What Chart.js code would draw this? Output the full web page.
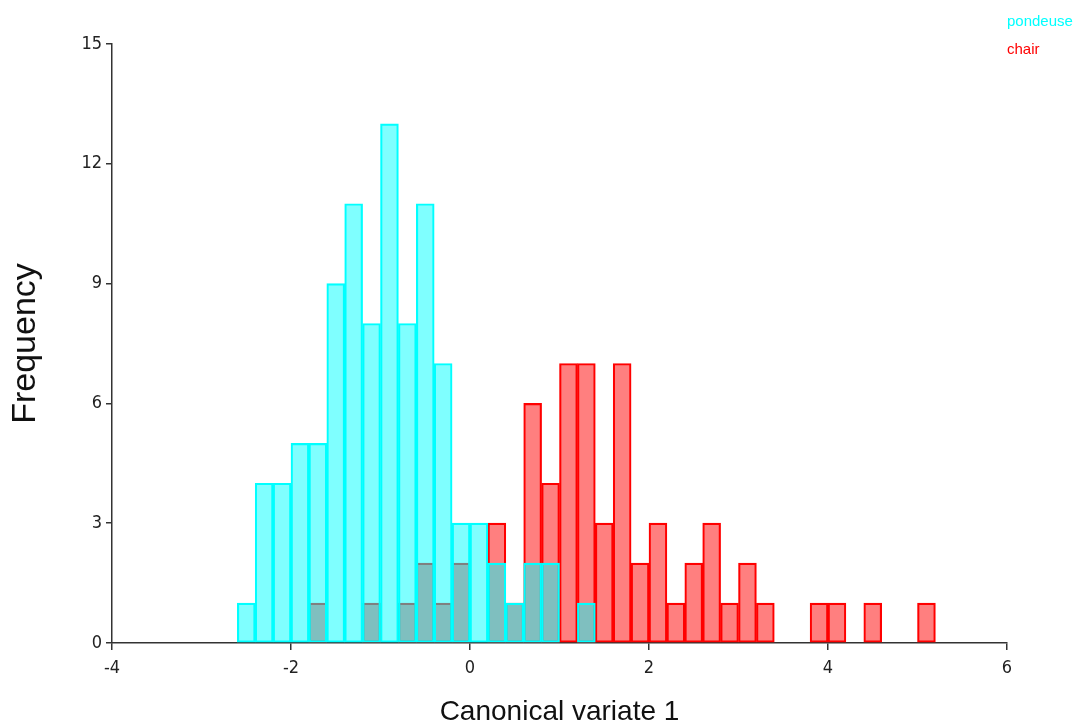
<!DOCTYPE html>
<html lang="fr">

<head>
  <meta charset="UTF-8">
  <title>Canonical variate 1 - histogram</title>
  <script src="https://cdn.jsdelivr.net/npm/chart.js"></script>
  <style>
    html, body {
      margin: 0;
      padding: 0;
      background: #fff;
      overflow: hidden;
    }

    #chart-container {
      width: 1078px;
      height: 726px;
    }
  </style>
</head>

<body>
  <div id="chart-container">
    <canvas id="histChart" width="1078" height="726"></canvas>
  </div>

  <script>
    // left edge of each 0.2-wide bin
    const binStarts = [
      -2.6, -2.4, -2.2, -2.0, -1.8, -1.6, -1.4, -1.2, -1.0, -0.8,
      -0.6, -0.4, -0.2, 0.0, 0.2, 0.4, 0.6, 0.8, 1.0, 1.2,
      1.4, 1.6, 1.8, 2.0, 2.2, 2.4, 2.6, 2.8, 3.0, 3.2,
      3.4, 3.6, 3.8, 4.0, 4.2, 4.4, 4.6, 4.8, 5.0
    ];
    const binWidth = 0.2;

    // counts per bin
    const pondeuseCounts = [
      1, 4, 4, 5, 5, 9, 11, 8, 13, 8,
      11, 7, 3, 3, 2, 1, 2, 2, 0, 1,
      0, 0, 0, 0, 0, 0, 0, 0, 0, 0,
      0, 0, 0, 0, 0, 0, 0, 0, 0
    ];
    const chairCounts = [
      0, 0, 0, 0, 1, 0, 0, 1, 0, 1,
      2, 1, 2, 0, 3, 1, 6, 4, 7, 7,
      3, 7, 2, 3, 1, 2, 3, 1, 2, 1,
      0, 0, 1, 1, 0, 1, 0, 0, 1
    ];

    const seriesNames = ["pondeuse", "chair"];
    const xTicks = [-4, -2, 0, 2, 4, 6];
    const yTicks = [0, 3, 6, 9, 12, 15];

    // turn bins into {x: bin centre, y: count}, skip empty bins
    function toPoints(counts) {
      return binStarts
        .map((start, i) => ({ x: +(start + binWidth / 2).toFixed(2), y: counts[i] }))
        .filter(p => p.y > 0);
    }

    const seriesLegend = {
      id: 'seriesLegend',
      afterDraw(chart) {
        const ctx = chart.ctx;
        ctx.save();
        ctx.font = '15px "Liberation Sans", Arial, sans-serif';
        ctx.textAlign = 'left';
        ctx.textBaseline = 'alphabetic';
        chart.data.datasets.forEach((ds, i) => {
          ctx.fillStyle = ds.borderColor;
          ctx.fillText(ds.label, chart.chartArea.right, 26 + i * 28);
        });
        ctx.restore();
      }
    };

    const tickFont = { family: '"DejaVu Sans Condensed", sans-serif', size: 18 };

    const ctx = document.getElementById('histChart').getContext('2d');
    const histChart = new Chart(ctx, {
      type: 'bar',
      data: {
        datasets: [
          {
            label: seriesNames[0],
            data: toPoints(pondeuseCounts),
            backgroundColor: 'rgba(0, 255, 255, 0.5)',
            borderColor: '#00ffff',
            borderWidth: 1.5,
            borderSkipped: false,
            grouped: false,
            barPercentage: 1,
            categoryPercentage: 1
          },
          {
            label: seriesNames[1],
            data: toPoints(chairCounts),
            backgroundColor: 'rgba(255, 0, 0, 0.5)',
            borderColor: '#ff0000',
            borderWidth: 1.5,
            borderSkipped: false,
            grouped: false,
            barPercentage: 1,
            categoryPercentage: 1
          }
        ]
      },
      options: {
        responsive: false,
        animation: false,
        layout: {
          padding: { top: 44, right: 71, left: 0, bottom: 0 }
        },
        plugins: {
          legend: { display: false },
          tooltip: { enabled: false }
        },
        scales: {
          x: {
            type: 'linear',
            min: -4,
            max: 6,
            offset: false,
            afterBuildTicks(scale) {
              scale.ticks = xTicks.map(v => ({ value: v }));
            },
            afterFit(scale) {
              scale.height = 83;
            },
            grid: {
              offset: false,
              drawOnChartArea: false,
              drawTicks: true,
              tickLength: 7,
              color: '#333',
              lineWidth: 1.5
            },
            border: { color: '#333', width: 1.5 },
            ticks: {
              color: '#222',
              font: tickFont,
              padding: 8,
              maxRotation: 0
            },
            title: {
              display: true,
              text: 'Canonical variate 1',
              color: '#111',
              font: { family: '"Liberation Sans", Arial, sans-serif', size: 28, lineHeight: 1 },
              padding: { top: 0, bottom: 0 }
            }
          },
          y: {
            min: 0,
            max: 15,
            afterBuildTicks(scale) {
              scale.ticks = yTicks.map(v => ({ value: v }));
            },
            afterFit(scale) {
              scale.width = 112;
            },
            grid: {
              drawOnChartArea: false,
              drawTicks: true,
              tickLength: 6,
              color: '#333',
              lineWidth: 1.5
            },
            border: { color: '#333', width: 1.5 },
            ticks: {
              color: '#222',
              font: tickFont,
              padding: 4
            },
            title: {
              display: true,
              text: 'Frequency',
              color: '#111',
              font: { family: '"Liberation Sans", Arial, sans-serif', size: 34, lineHeight: 1.2 },
              padding: { top: 5, bottom: 0 }
            }
          }
        }
      },
      plugins: [seriesLegend]
    });
  </script>
</body>

</html>
